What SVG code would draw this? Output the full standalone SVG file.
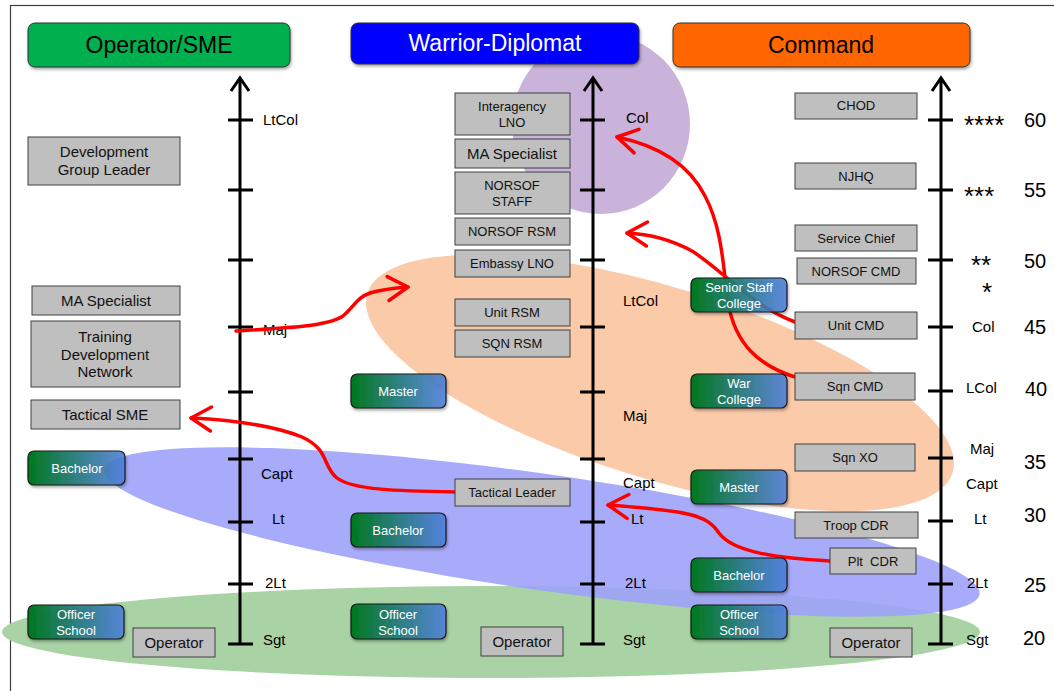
<svg xmlns="http://www.w3.org/2000/svg" width="1054" height="691" viewBox="0 0 1054 691">
<defs>
<style>
text{font-family:"Liberation Sans",Arial,sans-serif;fill:#000}
.hd{font-size:23px;text-anchor:middle}
.box{fill:#BFBFBF;stroke:#404040;stroke-width:1}
.bt{font-size:13px;text-anchor:middle;fill:#111}
.bt15{font-size:15px;text-anchor:middle;fill:#111}
.edu{fill:url(#eduGrad);stroke:#1a1a1a;stroke-width:1.2}
.et{font-size:13px;text-anchor:middle;fill:#fff}
.ax{stroke:#000;stroke-width:3;fill:none}
.al{font-size:15px}
.num{font-size:20px}
.star{font-size:26px}
.red{stroke:#FF0000;stroke-width:3.5;fill:none;stroke-linecap:round;marker-end:url(#redHead)}
</style>
<linearGradient id="eduGrad" x1="0" y1="0" x2="1" y2="0">
<stop offset="0" stop-color="#00781C"/>
<stop offset="1" stop-color="#4D7FE0" stop-opacity="0.85"/>
</linearGradient>
<marker id="redHead" markerUnits="userSpaceOnUse" markerWidth="40" markerHeight="40" viewBox="-30 -20 40 40" refX="0" refY="0" orient="auto">
<path d="M-20,-12 L0,0 L-20,12" fill="none" stroke="#FF0000" stroke-width="3.5" stroke-linecap="round" stroke-linejoin="round"/>
</marker>
<filter id="sh" x="-5%" y="-20%" width="110%" height="150%">
<feDropShadow dx="1" dy="2" stdDeviation="1.5" flood-color="#000" flood-opacity="0.35"/>
</filter>
</defs>
<rect x="0" y="0" width="1054" height="691" fill="#fff"/>
<rect x="10.5" y="5.5" width="1060" height="700" fill="none" stroke="#404040" stroke-width="1.2"/>

<g id="areas">
<ellipse cx="491" cy="632" rx="489" ry="46" fill="#A9D3A5"/>
<ellipse cx="542" cy="532" rx="442" ry="58" fill="#9EA2FA" fill-opacity="0.9" transform="rotate(8.1 542 532)"/>
<ellipse cx="660" cy="383" rx="306" ry="96" fill="#FBC7A3" fill-opacity="0.95" transform="rotate(17 660 383)"/>
<ellipse cx="601" cy="124" rx="89" ry="90" fill="#C9B3DB"/>
</g>

<g id="headers">
<g id="hdr-operator"><rect x="28" y="23" width="262" height="44" rx="7" fill="#00B050" stroke="#333" stroke-width="1" filter="url(#sh)"/><text class="hd" x="159" y="53">Operator/SME</text></g>
<g id="hdr-warrior"><rect x="351" y="23" width="288" height="41" rx="7" fill="#0000FF" stroke="#333" stroke-width="1" filter="url(#sh)"/><text class="hd" x="495" y="51" style="fill:#fff">Warrior-Diplomat</text></g>
<g id="hdr-command"><rect x="673" y="23" width="297" height="44" rx="7" fill="#FF6600" stroke="#333" stroke-width="1" filter="url(#sh)"/><text class="hd" x="821" y="53">Command</text></g>
</g>

<g id="axes">
<g id="axis-left">
<path class="ax" d="M240,79 V645 M231,91 L240,78 L249,91"/>
<path class="ax" d="M228,120 H253 M228,190 H253 M228,260 H253 M228,327 H253 M228,392 H253 M228,459 H253 M228,522 H253 M228,584 H253 M228,644 H253"/>
<text class="al" x="263" y="125">LtCol</text>
<text class="al" x="263" y="335">Maj</text>
<text class="al" x="261" y="479">Capt</text>
<text class="al" x="272" y="524">Lt</text>
<text class="al" x="265" y="588">2Lt</text>
<text class="al" x="263" y="645">Sgt</text>
</g>
<g id="axis-middle">
<path class="ax" d="M593,79 V645 M584,91 L593,78 L602,91"/>
<path class="ax" d="M580,120 H605 M580,190 H605 M580,260 H605 M580,327 H605 M580,392 H605 M580,459 H605 M580,522 H605 M580,584 H605 M580,644 H605"/>
<text class="al" x="626" y="123">Col</text>
<text class="al" x="623" y="306">LtCol</text>
<text class="al" x="623" y="421">Maj</text>
<text class="al" x="623" y="488">Capt</text>
<text class="al" x="631" y="524">Lt</text>
<text class="al" x="625" y="588">2Lt</text>
<text class="al" x="623" y="645">Sgt</text>
</g>
<g id="axis-right">
<path class="ax" d="M941,79 V645 M932,91 L941,78 L950,91"/>
<path class="ax" d="M928,120 H953 M928,190 H953 M928,260 H953 M928,327 H953 M928,391 H953 M928,458 H953 M928,521 H953 M928,584 H953 M928,644 H953"/>
<text class="star" x="964" y="134">****</text>
<text class="star" x="964" y="205">***</text>
<text class="star" x="971" y="274">**</text>
<text class="star" x="982" y="301">*</text>
<text class="al" x="972" y="332">Col</text>
<text class="al" x="966" y="393">LCol</text>
<text class="al" x="970" y="454">Maj</text>
<text class="al" x="966" y="489">Capt</text>
<text class="al" x="974" y="524">Lt</text>
<text class="al" x="967" y="588">2Lt</text>
<text class="al" x="966" y="645">Sgt</text>
<text class="num" x="1024" y="127">60</text>
<text class="num" x="1024" y="197">55</text>
<text class="num" x="1024" y="268">50</text>
<text class="num" x="1024" y="334">45</text>
<text class="num" x="1025" y="396">40</text>
<text class="num" x="1024" y="469">35</text>
<text class="num" x="1024" y="522">30</text>
<text class="num" x="1024" y="592">25</text>
<text class="num" x="1023" y="645">20</text>
</g>
</g>

<g id="connectors">
<path class="red" d="M236,331 C290,328 328,326 343,316 C355,306 356,298 370,293 C384,289 395,288 408,287"/>
<path class="red" d="M455,492 C400,491 352,490 337,478 C322,466 330,450 302,437 C272,425 232,420 191,418"/>
<path class="red" d="M830,561 C772,558 732,551 719,533 C707,515 690,511 608,505"/>
<path class="red" d="M795,322 C752,306 722,270 692,251 C668,238 648,234 627,233"/>
<path class="red" d="M795,377 C760,366 735,345 728,302 C723,265 722,228 705,196 C690,166 660,146 617,137"/>
</g>

<g id="n-dev-group-leader"><rect class="box" x="28" y="137" width="152" height="48"/><text class="bt15" x="104" y="157">Development</text><text class="bt15" x="104" y="175">Group Leader</text></g>
<g id="n-ma-specialist-left"><rect class="box" x="32" y="286" width="148" height="29"/><text class="bt15" x="106" y="306">MA Specialist</text></g>
<g id="n-training-dev-network"><rect class="box" x="31" y="321" width="149" height="66"/><text class="bt15" x="105" y="342">Training</text><text class="bt15" x="105" y="360">Development</text><text class="bt15" x="105" y="377">Network</text></g>
<g id="n-tactical-sme"><rect class="box" x="31" y="400" width="149" height="29"/><text class="bt15" x="105" y="420">Tactical SME</text></g>
<g id="n-operator-left"><rect class="box" x="133" y="628" width="82" height="29"/><text class="bt15" x="174" y="648">Operator</text></g>

<g id="n-interagency-lno"><rect class="box" x="455" y="93" width="115" height="42"/><text class="bt" x="512" y="111">Interagency</text><text class="bt" x="512" y="127">LNO</text></g>
<g id="n-ma-specialist-mid"><rect class="box" x="455" y="139" width="115" height="29"/><text class="bt15" x="512" y="159">MA Specialist</text></g>
<g id="n-norsof-staff"><rect class="box" x="455" y="172" width="115" height="42"/><text class="bt" x="512" y="190">NORSOF</text><text class="bt" x="512" y="206">STAFF</text></g>
<g id="n-norsof-rsm"><rect class="box" x="455" y="218" width="115" height="27"/><text class="bt" x="512" y="236">NORSOF RSM</text></g>
<g id="n-embassy-lno"><rect class="box" x="455" y="250" width="115" height="27"/><text class="bt" x="512" y="268">Embassy LNO</text></g>
<g id="n-unit-rsm"><rect class="box" x="455" y="299" width="115" height="27"/><text class="bt" x="512" y="317">Unit RSM</text></g>
<g id="n-sqn-rsm"><rect class="box" x="455" y="330" width="115" height="27"/><text class="bt" x="512" y="348">SQN RSM</text></g>
<g id="n-tactical-leader"><rect class="box" x="455" y="479" width="115" height="27"/><text class="bt" x="512" y="497">Tactical Leader</text></g>
<g id="n-operator-mid"><rect class="box" x="481" y="627" width="82" height="29"/><text class="bt15" x="522" y="647">Operator</text></g>

<g id="n-chod"><rect class="box" x="795" y="93" width="122" height="26"/><text class="bt" x="856" y="110">CHOD</text></g>
<g id="n-njhq"><rect class="box" x="795" y="163" width="121" height="26"/><text class="bt" x="856" y="181">NJHQ</text></g>
<g id="n-service-chief"><rect class="box" x="795" y="225" width="122" height="26"/><text class="bt" x="856" y="243">Service Chief</text></g>
<g id="n-norsof-cmd"><rect class="box" x="797" y="258" width="119" height="26"/><text class="bt" x="856" y="276">NORSOF CMD</text></g>
<g id="n-unit-cmd"><rect class="box" x="795" y="312" width="122" height="27"/><text class="bt" x="856" y="330">Unit CMD</text></g>
<g id="n-sqn-cmd"><rect class="box" x="795" y="373" width="120" height="27"/><text class="bt" x="855" y="391">Sqn CMD</text></g>
<g id="n-sqn-xo"><rect class="box" x="795" y="444" width="120" height="27"/><text class="bt" x="855" y="462">Sqn XO</text></g>
<g id="n-troop-cdr"><rect class="box" x="795" y="512" width="123" height="26"/><text class="bt" x="856" y="530">Troop CDR</text></g>
<g id="n-plt-cdr"><rect class="box" x="830" y="548" width="86" height="26"/><text class="bt" x="873" y="566" xml:space="preserve">Plt  CDR</text></g>
<g id="n-operator-right"><rect class="box" x="830" y="628" width="82" height="29"/><text class="bt15" x="871" y="648">Operator</text></g>

<g id="e-bachelor-left"><rect class="edu" x="28" y="451" width="97" height="34" rx="6" filter="url(#sh)"/><text class="et" x="77" y="473">Bachelor</text></g>
<g id="e-officer-left"><rect class="edu" x="28" y="605" width="96" height="34" rx="6" filter="url(#sh)"/><text class="et" x="76" y="619">Officer</text><text class="et" x="76" y="635">School</text></g>
<g id="e-master-mid"><rect class="edu" x="351" y="374" width="95" height="34" rx="6" filter="url(#sh)"/><text class="et" x="398" y="396">Master</text></g>
<g id="e-bachelor-mid"><rect class="edu" x="351" y="513" width="95" height="34" rx="6" filter="url(#sh)"/><text class="et" x="398" y="535">Bachelor</text></g>
<g id="e-officer-mid"><rect class="edu" x="351" y="604" width="95" height="35" rx="6" filter="url(#sh)"/><text class="et" x="398" y="619">Officer</text><text class="et" x="398" y="635">School</text></g>
<g id="e-senior-staff"><rect class="edu" x="691" y="278" width="96" height="34" rx="6" filter="url(#sh)"/><text class="et" x="739" y="292">Senior Staff</text><text class="et" x="739" y="308">College</text></g>
<g id="e-war-college"><rect class="edu" x="691" y="374" width="96" height="34" rx="6" filter="url(#sh)"/><text class="et" x="739" y="388">War</text><text class="et" x="739" y="404">College</text></g>
<g id="e-master-right"><rect class="edu" x="691" y="470" width="96" height="34" rx="6" filter="url(#sh)"/><text class="et" x="739" y="492">Master</text></g>
<g id="e-bachelor-right"><rect class="edu" x="691" y="558" width="96" height="34" rx="6" filter="url(#sh)"/><text class="et" x="739" y="580">Bachelor</text></g>
<g id="e-officer-right"><rect class="edu" x="691" y="605" width="96" height="34" rx="6" filter="url(#sh)"/><text class="et" x="739" y="619">Officer</text><text class="et" x="739" y="635">School</text></g>
</svg>
